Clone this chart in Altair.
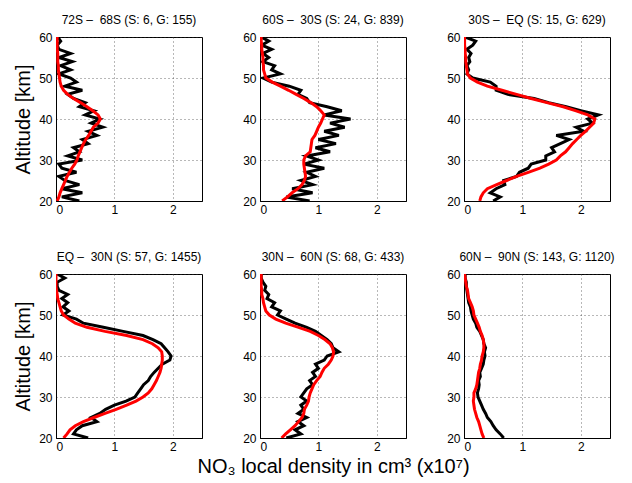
import altair as alt
import pandas as pd

ALT = list(range(20, 61))

NB = "\u00a0"
TITLES = [
    "72S \u2013" + NB + NB + "68S (S: 6, G: 155)",
    "60S \u2013" + NB + NB + "30S (S: 24, G: 839)",
    "30S \u2013" + NB + NB + "EQ (S: 15, G: 629)",
    "EQ \u2013" + NB + NB + "30N (S: 57, G: 1455)",
    "30N \u2013" + NB + NB + "60N (S: 68, G: 433)",
    "60N \u2013" + NB + NB + "90N (S: 143, G: 1120)",
]

# black (observed) profiles, altitude 20..60 km
OBS_1 = [0.40, 0.10, 0.45, 0.10, 0.40, 0.15, 0.05, 0.35, 0.10, 0.05, 0.45, 0.20, 0.40, 0.30, 0.55,
         0.45, 0.70, 0.55, 0.80, 0.60, 0.75, 0.50, 0.65, 0.40, 0.50, 0.30, 0.20, 0.45, 0.15, 0.35,
         0.25, 0.05, 0.25, 0.08, 0.28, 0.05, 0.25, 0.05, 0.02, 0.08, 0.03]
OBS_2 = [0.85, 0.45, 0.90, 0.55, 0.90, 0.70, 0.95, 0.80, 1.10, 0.75, 1.00, 0.80, 1.20, 0.95, 1.30,
         1.00, 1.35, 1.10, 1.45, 1.20, 1.55, 1.10, 1.40, 1.15, 0.85, 0.80, 0.65, 0.70, 0.50, 0.20,
         0.05, 0.35, 0.20, 0.25, 0.05, 0.15, 0.05, 0.20, 0.03, 0.15, 0.02]
OBS_3 = [0.50, 0.62, 0.45, 0.55, 0.70, 0.68, 0.90, 0.95, 1.10, 1.15, 1.40, 1.40, 1.55, 1.50, 1.65,
         1.80, 1.58, 2.05, 1.92, 2.20, 2.12, 2.30, 2.00, 1.75, 1.45, 1.20, 0.75, 0.55, 0.55, 0.45,
         0.15, 0.05, 0.08, 0.05, 0.10, 0.08, 0.12, 0.05, 0.15, 0.20, 0.02]
OBS_4 = [0.55, 0.30, 0.35, 0.45, 0.70, 0.60, 0.75, 0.85, 1.00, 1.20, 1.35, 1.40, 1.45, 1.50, 1.58,
         1.62, 1.68, 1.75, 1.82, 1.95, 1.97, 1.92, 1.86, 1.80, 1.66, 1.49, 1.15, 0.81, 0.47, 0.35,
         0.12, 0.22, 0.12, 0.20, 0.10, 0.20, 0.05, 0.02, 0.02, 0.15, 0.02]
OBS_5 = [0.45, 0.70, 0.60, 0.75, 0.65, 0.80, 0.65, 0.75, 0.70, 0.80, 0.70, 0.75, 0.80, 0.90, 0.85,
         0.95, 0.90, 1.00, 0.95, 1.10, 1.15, 1.35, 1.25, 1.22, 1.15, 1.05, 0.95, 0.80, 0.60, 0.45,
         0.30, 0.35, 0.20, 0.25, 0.12, 0.15, 0.08, 0.10, 0.05, 0.02, 0.02]
OBS_6 = [0.68, 0.62, 0.55, 0.50, 0.46, 0.40, 0.37, 0.33, 0.30, 0.27, 0.24, 0.23, 0.25, 0.26, 0.25,
         0.28, 0.27, 0.30, 0.33, 0.34, 0.36, 0.35, 0.37, 0.34, 0.33, 0.30, 0.27, 0.22, 0.20, 0.16,
         0.14, 0.12, 0.11, 0.08, 0.07, 0.06, 0.05, 0.04, 0.04, 0.02, 0.02]

# red (model) profiles, altitude 20..60 km
MOD_1 = [0.02, 0.05, 0.07, 0.10, 0.13, 0.16, 0.19, 0.23, 0.27, 0.32, 0.36, 0.38, 0.41, 0.44, 0.47,
         0.51, 0.56, 0.60, 0.64, 0.72, 0.76, 0.72, 0.63, 0.53, 0.42, 0.30, 0.20, 0.13, 0.09, 0.07,
         0.06, 0.05, 0.04, 0.04, 0.03, 0.03, 0.03, 0.02, 0.02, 0.02, 0.02]
MOD_2 = [0.38, 0.47, 0.55, 0.65, 0.72, 0.76, 0.78, 0.77, 0.76, 0.75, 0.75, 0.78, 0.86, 0.87, 0.88,
         0.89, 0.94, 0.97, 1.00, 1.04, 1.07, 1.10, 1.04, 0.97, 0.87, 0.75, 0.62, 0.49, 0.35, 0.21,
         0.10, 0.08, 0.06, 0.06, 0.05, 0.05, 0.04, 0.03, 0.03, 0.02, 0.02]
MOD_3 = [0.27, 0.29, 0.33, 0.40, 0.56, 0.73, 0.90, 1.10, 1.30, 1.45, 1.58, 1.65, 1.74, 1.80, 1.86,
         1.93, 2.00, 2.08, 2.15, 2.22, 2.24, 2.12, 1.92, 1.70, 1.42, 1.15, 0.90, 0.65, 0.40, 0.23,
         0.11, 0.06, 0.05, 0.04, 0.03, 0.03, 0.02, 0.02, 0.01, 0.01, 0.01]
MOD_4 = [0.13, 0.19, 0.24, 0.33, 0.47, 0.65, 0.84, 1.03, 1.21, 1.37, 1.49, 1.58, 1.64, 1.68, 1.72,
         1.75, 1.78, 1.80, 1.81, 1.82, 1.82, 1.81, 1.75, 1.65, 1.49, 1.21, 0.84, 0.53, 0.33, 0.22,
         0.13, 0.09, 0.07, 0.05, 0.03, 0.02, 0.01, 0.00, 0.00, 0.00, 0.00]
MOD_5 = [0.37, 0.44, 0.52, 0.60, 0.66, 0.72, 0.75, 0.76, 0.80, 0.83, 0.84, 0.86, 0.89, 0.92, 0.97,
         1.03, 1.06, 1.10, 1.17, 1.22, 1.25, 1.26, 1.24, 1.20, 1.11, 1.00, 0.86, 0.66, 0.44, 0.27,
         0.16, 0.10, 0.08, 0.06, 0.05, 0.03, 0.03, 0.02, 0.02, 0.02, 0.02]
MOD_6 = [0.34, 0.31, 0.29, 0.27, 0.25, 0.22, 0.20, 0.18, 0.17, 0.16, 0.17, 0.17, 0.20, 0.22, 0.23,
         0.24, 0.25, 0.27, 0.28, 0.30, 0.31, 0.33, 0.34, 0.34, 0.33, 0.31, 0.28, 0.26, 0.23, 0.20,
         0.17, 0.16, 0.14, 0.11, 0.08, 0.07, 0.06, 0.04, 0.03, 0.02, 0.01]

OBS = [OBS_1, OBS_2, OBS_3, OBS_4, OBS_5, OBS_6]
MOD = [MOD_1, MOD_2, MOD_3, MOD_4, MOD_5, MOD_6]

X_TICKS = [0, 1, 2]
Y_TICKS = [20, 30, 40, 50, 60]
X_TITLE = "NO\u2083 local density in cm\u00b3 (x10\u2077)"
Y_TITLE = "Altitude [km]"

FONT = "Liberation Sans"


def panel(i):
    rows = []
    for a, o, m in zip(ALT, OBS[i], MOD[i]):
        rows.append({"alt": a, "val": o, "series": "obs"})
        rows.append({"alt": a, "val": m, "series": "mod"})
    df = pd.DataFrame(rows)

    xax = dict(values=X_TICKS, grid=True, labelPadding=3)
    if i == 4:
        xax["title"] = X_TITLE
    else:
        xax["title"] = None
    yax = dict(values=Y_TICKS, grid=True, labelPadding=4)
    if i in (0, 3):
        yax["title"] = Y_TITLE
    else:
        yax["title"] = None

    x = alt.X("val:Q", scale=alt.Scale(domain=[0, 2.5], nice=False), axis=alt.Axis(**xax))
    y = alt.Y("alt:Q", scale=alt.Scale(domain=[20, 60], nice=False, zero=False), axis=alt.Axis(**yax))

    base = alt.Chart(df)
    black = base.transform_filter(alt.datum.series == "obs").mark_line(
        color="black", strokeWidth=3, clip=True
    ).encode(x=x, y=y, order="alt:Q")
    red = base.transform_filter(alt.datum.series == "mod").mark_line(
        color="#ff0000", strokeWidth=3, clip=True
    ).encode(x=x, y=y, order="alt:Q")
    return alt.layer(black, red).properties(
        width=146, height=164,
        title=alt.TitleParams(TITLES[i], fontSize=12, font=FONT, fontWeight="normal",
                              color="black", offset=4),
    )


chart = alt.concat(
    *[panel(i) for i in range(6)], columns=3, spacing={"row": 73, "column": 58}, bounds="flush"
).configure_view(
    stroke="black", strokeWidth=1
).configure_axis(
    domainColor="black", domainWidth=1, ticks=False,
    gridColor="#333333", gridDash=[1, 3], gridWidth=1, gridOpacity=0.7,
    labelFont=FONT, labelFontSize=12, labelColor="black",
    titleFont=FONT, titleFontSize=20, titleFontWeight="normal", titleColor="black",
    titlePadding=5,
).configure_axisX(titlePadding=4).properties(background="white")

chart.save("out.html", embed_options={"renderer": "svg", "actions": False})
